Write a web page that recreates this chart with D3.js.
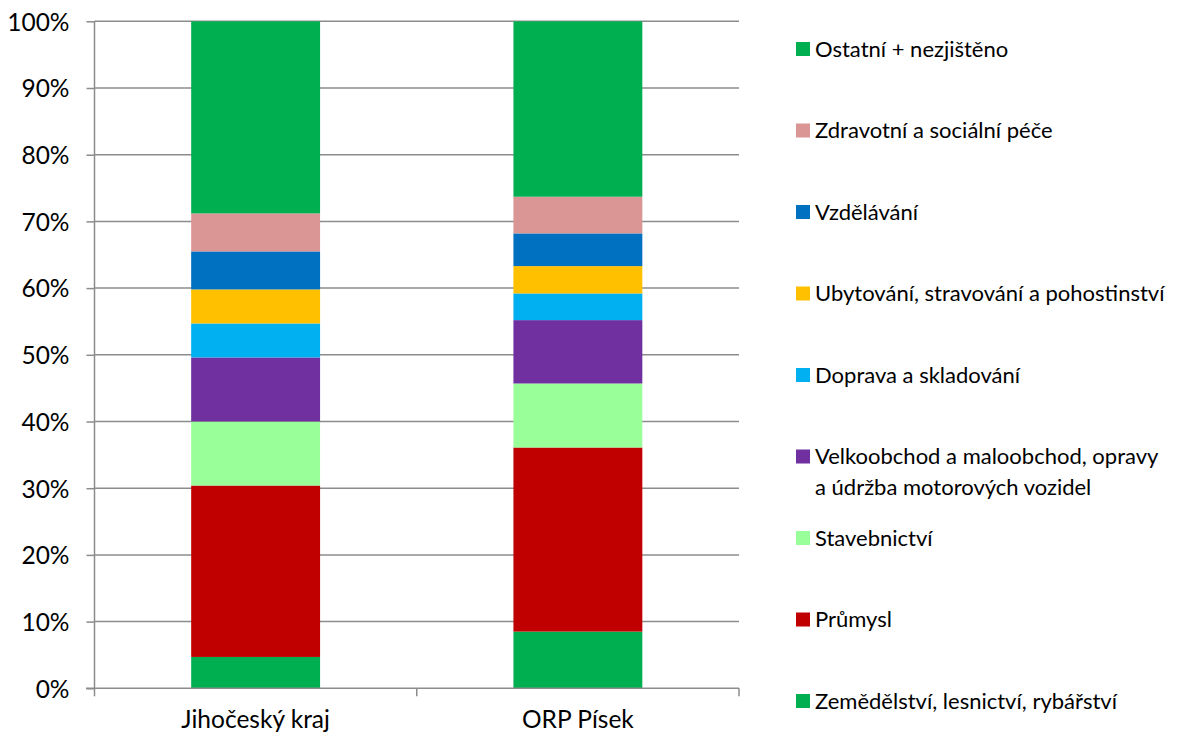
<!DOCTYPE html>
<html>
<head>
<meta charset="utf-8">
<script src="https://cdn.jsdelivr.net/npm/d3@7"></script>
<style>
  body { margin: 0; background: #fff; }
  svg { font-family: Lato, "Noto Sans", sans-serif; }
</style>
</head>
<body>
<svg id="chart"></svg>
<script>
// categories on the x axis
var categories = ["Jihočeský kraj", "ORP Písek"];

// series, bottom of the stack first
var series = [
    "Zemědělství, lesnictví, rybářství",
    "Průmysl",
    "Stavebnictví",
    "Velkoobchod a maloobchod, opravy a údržba motorových vozidel",
    "Doprava a skladování",
    "Ubytování, stravování a pohostinství",
    "Vzdělávání",
    "Zdravotní a sociální péče",
    "Ostatní + nezjištěno"
];

var colors = ["#00B050", "#C00000", "#99FF99", "#7030A0", "#00B0F0", "#FFC000", "#0070C0", "#DA9694", "#00B050"];

// percent shares per category, same order as series
var jihocesky = [4.7, 25.7, 9.6, 9.6, 5.1, 5.1, 5.7, 5.7, 28.8];
var pisek = [8.5, 27.6, 9.6, 9.5, 4.0, 4.1, 4.9, 5.5, 26.3];

var yTicks = [0, 10, 20, 30, 40, 50, 60, 70, 80, 90, 100];

// legend text split in lines
var legendLines = {
    "Velkoobchod a maloobchod, opravy a údržba motorových vozidel": ["Velkoobchod a maloobchod, opravy", "a údržba motorových vozidel"]
};

var width = 1177, height = 736;
var svg = d3.select("#chart").attr("width", width).attr("height", height);

var x = d3.scaleBand()
    .domain(categories)
    .range([94.5, 739])
    .paddingInner(0.6)
    .paddingOuter(0.3);

var y = d3.scaleLinear()
    .domain([0, 100])
    .range([688.3, 21.3]);

// gridlines
svg.append("g")
    .selectAll("line")
    .data(yTicks.slice(1))
    .join("line")
    .attr("x1", 94.5)
    .attr("x2", 739)
    .attr("y1", function(d) { return y(d); })
    .attr("y2", function(d) { return y(d); })
    .attr("stroke", "#8c8c8c")
    .attr("stroke-width", 1.5);

// stack the data
var rows = categories.map(function(c, i) {
    var vals = i == 0 ? jihocesky : pisek;
    var r = { cat: c };
    series.forEach(function(s, j) { r[s] = vals[j]; });
    return r;
});
var stack = d3.stack().keys(series)(rows);

svg.append("g")
    .selectAll("g")
    .data(stack)
    .join("g")
    .attr("fill", function(d, i) { return colors[i]; })
    .selectAll("rect")
    .data(function(d) { return d; })
    .join("rect")
    .attr("x", function(d) { return x(d.data.cat); })
    .attr("width", x.bandwidth())
    .attr("y", function(d) { return y(d[1]); })
    .attr("height", function(d) { return y(d[0]) - y(d[1]); });

// y axis
var yAxis = svg.append("g")
    .attr("transform", "translate(94.5,0)")
    .call(d3.axisLeft(y).tickValues(yTicks).tickSize(8).tickFormat(function(d) { return d + "%"; }));
yAxis.selectAll("line, path").attr("stroke", "#8c8c8c").attr("stroke-width", 1.5);
yAxis.select(".domain").attr("d", "M0," + y(0) + "V" + y(100));
yAxis.selectAll("text")
    .attr("x", -25)
    .attr("dy", "0.36em")
    .attr("fill", "#000")
    .style("font-size", "24.5px")
    .style("font-family", "Lato, 'Noto Sans', sans-serif");

// x axis
var xAxis = svg.append("g").attr("transform", "translate(0," + y(0) + ")");
xAxis.append("line")
    .attr("x1", 86).attr("x2", 739)
    .attr("stroke", "#8c8c8c").attr("stroke-width", 1.5);
var bounds = [94.5].concat(categories.map(function(c) { return x(c) + x.bandwidth() + x.step() * 0.3; }));
xAxis.selectAll(".tick")
    .data(bounds)
    .join("line")
    .attr("class", "tick")
    .attr("x1", function(d) { return d; })
    .attr("x2", function(d) { return d; })
    .attr("y1", 0).attr("y2", 8)
    .attr("stroke", "#8c8c8c").attr("stroke-width", 1.5);
xAxis.selectAll("text")
    .data(categories)
    .join("text")
    .attr("x", function(d) { return x(d) + x.bandwidth() / 2; })
    .attr("y", 40)
    .attr("text-anchor", "middle")
    .style("font-size", "24.5px")
    .text(function(d) { return d; });

// legend, top entry is the last series
var legend = svg.append("g")
    .selectAll("g")
    .data(series.slice().reverse())
    .join("g")
    .attr("transform", function(d, i) { return "translate(796," + (49 + i * 81.5) + ")"; });

legend.append("rect")
    .attr("x", 0).attr("y", -7)
    .attr("width", 14).attr("height", 14)
    .attr("fill", function(d) { return colors[series.indexOf(d)]; });

legend.append("text")
    .attr("x", 19)
    .style("font-size", "22px")
    .selectAll("tspan")
    .data(function(d) { return legendLines[d] || [d]; })
    .join("tspan")
    .attr("x", 19)
    .attr("y", function(d, i) { return i * 31; })
    .attr("dy", "0.36em")
    .text(function(d) { return d; });
</script>
</body>
</html>
